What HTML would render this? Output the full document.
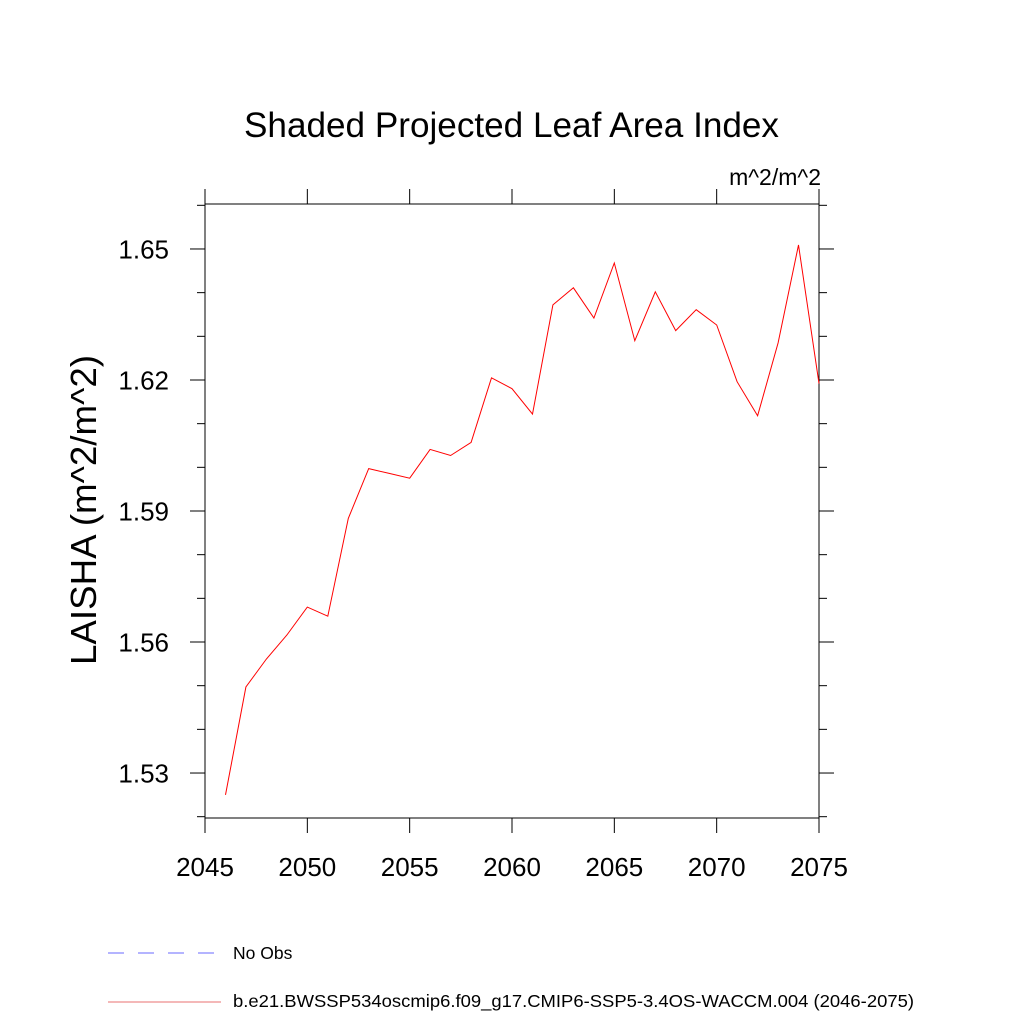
<!DOCTYPE html>
<html><head><meta charset="utf-8"><style>
html,body{margin:0;padding:0;background:#fff;}
svg{display:block;font-family:"Liberation Sans",sans-serif;}
</style></head><body>
<svg id="chart" width="1024" height="1024" viewBox="0 0 1024 1024">
<text x="244" y="137" font-size="35" textLength="535" lengthAdjust="spacingAndGlyphs">Shaded Projected Leaf Area Index</text>
<text x="821" y="185" font-size="23" text-anchor="end">m^2/m^2</text>
<text transform="translate(96,665) rotate(-90)" font-size="36" textLength="310" lengthAdjust="spacingAndGlyphs">LAISHA  (m^2/m^2)</text>
<g id="axes"></g>
<g id="series"></g>
<g>
<line x1="108" y1="953" x2="216" y2="953" stroke="#6a6aff" stroke-width="1" stroke-dasharray="16,14"/>
<text x="233" y="959" font-size="17.5">No Obs</text>
<line x1="108" y1="1002" x2="221" y2="1002" stroke="#e87070" stroke-width="1"/>
<text x="233" y="1007" font-size="17.5" textLength="681" lengthAdjust="spacingAndGlyphs">b.e21.BWSSP534oscmip6.f09_g17.CMIP6-SSP5-3.4OS-WACCM.004 (2046-2075)</text>
</g>
</svg>
<script>
const years=[2046,2047,2048,2049,2050,2051,2052,2053,2054,2055,2056,2057,2058,2059,2060,2061,2062,2063,2064,2065,2066,2067,2068,2069,2070,2071,2072,2073,2074,2075];
const values=[1.525,1.5497,1.5561,1.5616,1.568,1.5659,1.5883,1.5997,1.5986,1.5975,1.6041,1.6027,1.6057,1.6205,1.618,1.6122,1.6372,1.6411,1.6342,1.6468,1.629,1.6402,1.6313,1.6361,1.6326,1.6196,1.6118,1.6285,1.6509,1.6192];
const xTicks=[2045,2050,2055,2060,2065,2070,2075];
const yTicks=[1.53,1.56,1.59,1.62,1.65];
const yMinor=[1.52,1.54,1.55,1.57,1.58,1.60,1.61,1.63,1.64,1.66];
const X0=205,X1=819,Y0=204,Y1=818,xMin=2045,xMax=2075,yMin=1.5197,yMax=1.6603;
const sx=v=>X0+(v-xMin)/(xMax-xMin)*(X1-X0);
const sy=v=>Y1-(v-yMin)/(yMax-yMin)*(Y1-Y0);
const NS="http://www.w3.org/2000/svg";
const axes=document.getElementById('axes');
function mk(tag,attrs,parent){const e=document.createElementNS(NS,tag);for(const k in attrs)e.setAttribute(k,attrs[k]);parent.appendChild(e);return e;}
const frame=mk('rect',{x:X0,y:Y0,width:X1-X0,height:Y1-Y0,fill:'none',stroke:'#000','stroke-width':1},axes);


xTicks.forEach(t=>{const x=sx(t);
 const a=mk('line',{x1:x,y1:Y1,x2:x,y2:Y1+15,stroke:'#000'},axes);
 
 
 const b=mk('line',{x1:x,y1:Y0,x2:x,y2:Y0-15,stroke:'#000'},axes);
 
 
 const l=mk('text',{x:x,y:876,'font-size':26,'text-anchor':'middle'},axes);l.textContent=t;
 
 
});
yTicks.forEach(t=>{const y=sy(t);
 const a=mk('line',{x1:X0,y1:y,x2:X0-15,y2:y,stroke:'#000'},axes);
 
 
 const b=mk('line',{x1:X1,y1:y,x2:X1+15,y2:y,stroke:'#000'},axes);
 
 
 const l=mk('text',{x:169,y:y+9.5,'font-size':26,'text-anchor':'end'},axes);l.textContent=t.toFixed(2);
 
 
});
yMinor.forEach(t=>{const y=sy(t);
 const a=mk('line',{x1:X0,y1:y,x2:X0-8,y2:y,stroke:'#000'},axes);
 
 
 const b=mk('line',{x1:X1,y1:y,x2:X1+8,y2:y,stroke:'#000'},axes);
 
 
});
const pts=years.map((yr,i)=>sx(yr).toFixed(1)+','+sy(values[i]).toFixed(1)).join(' ');
const line=mk('polyline',{points:pts,fill:'none',stroke:'#ff0000','stroke-width':1},document.getElementById('series'));


</script>
</body></html>
